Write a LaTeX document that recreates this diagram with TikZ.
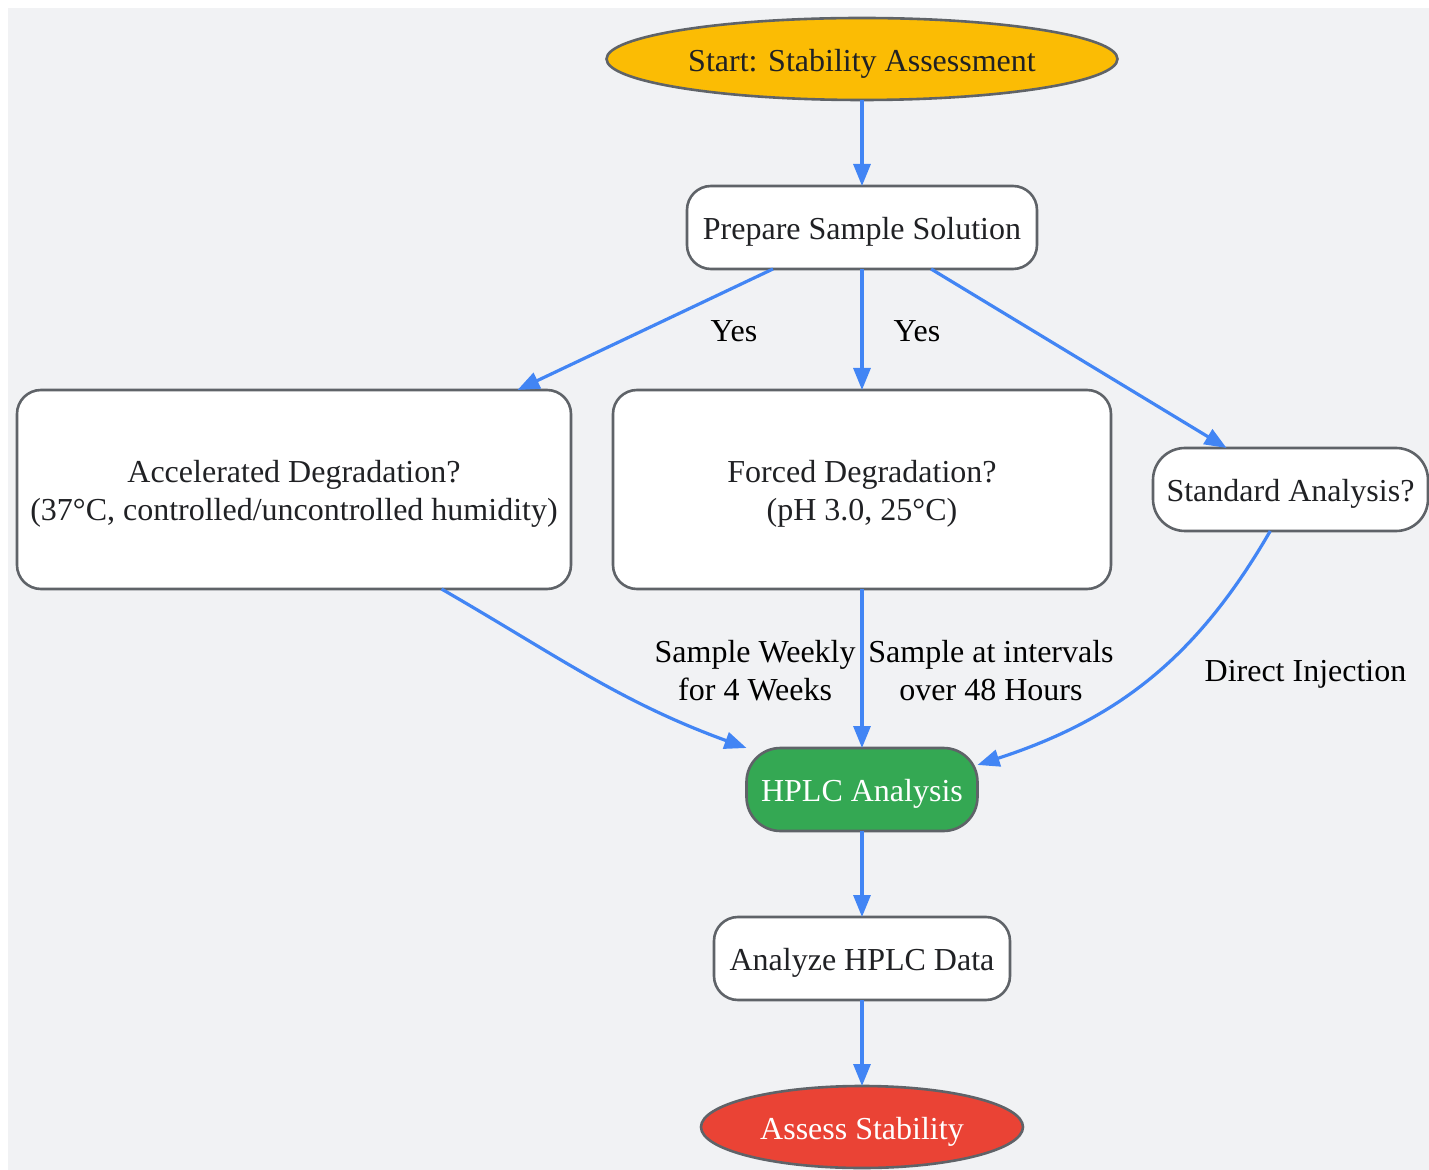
\documentclass[tikz,border=0pt]{standalone}
\usepackage{fontspec}
\setmainfont{Liberation Serif}
\usepackage{tikz}
\usetikzlibrary{arrows.meta,shapes.geometric,positioning}
\usepackage{xcolor}

\definecolor{bggrey}{HTML}{F1F2F4}
\definecolor{edgegrey}{HTML}{5F6368}
\definecolor{flowblue}{HTML}{4285F4}
\definecolor{startyellow}{HTML}{FBBC04}
\definecolor{hplcgreen}{HTML}{34A853}
\definecolor{endred}{HTML}{EA4335}
\definecolor{txtdark}{HTML}{202124}
\newcommand{\topstrut}{\rule{0pt}{15.5pt}}

\begin{document}
\begin{tikzpicture}[
				font=\fontsize{16}{19}\selectfont,
				node distance=43pt,
				box/.style={draw=edgegrey,line width=1.3pt,rectangle,rounded corners=12pt,fill=white,text=txtdark,minimum height=41.5pt,inner sep=3pt,outer sep=0pt,align=center},
				oval/.style={draw=edgegrey,line width=1.3pt,ellipse,inner sep=0pt,outer sep=0pt,minimum height=41pt,text=txtdark},
				flow/.style={-{Triangle[length=11pt,width=8.5pt]},line width=1.6pt,flowblue},
				lbl/.style={text=black,align=center,inner sep=2pt}
				]
				
				% sfondo
				\useasboundingbox (-431pt,29.5pt) rectangle (283.5pt,-555.5pt);
				\fill[bggrey] (-427pt,25.5pt) rectangle (283.5pt,-555.5pt);
				
				% inizio e preparazione
				\node[oval,fill=startyellow,minimum width=255.5pt] (start) at (0,0) {\topstrut Start: Stability Assessment};
				\node[box,below=of start,minimum width=175pt] (prep) {\topstrut Prepare Sample Solution};
				
				% tipi di studio
				\node[box,below=60.5pt of prep,minimum width=249pt,minimum height=99.5pt] (forced) {\topstrut Forced Degradation?\\(pH 3.0, 25°C)};
				\node[box,left=21pt of forced,minimum width=277pt,minimum height=99.5pt] (accel) {\topstrut Accelerated Degradation?\\(37°C, controlled/uncontrolled humidity)};
				\node[box,right=21pt of forced,minimum width=137.5pt,rounded corners=16pt] (standard) {\topstrut Standard Analysis?};
				
				% analisi
				\node[box,below=79.5pt of forced,minimum width=115.5pt,rounded corners=17pt,fill=hplcgreen,text=white] (hplc) {\topstrut HPLC Analysis};
				\node[box,below=of hplc,minimum width=148pt] (analyze) {\topstrut Analyze HPLC Data};
				\node[oval,below=of analyze,fill=endred,text=white,minimum width=161pt] (assess) {\topstrut Assess Stability};
				
				% collegamenti
				\draw[flow] (start) -- (prep);
				\draw[flow] (prep.-155) -- (accel.24.6);
				\draw[flow] (prep) -- coordinate[midway] (pmid) (forced);
				\draw[flow] (prep.-31.7) -- (standard.147);
				\draw[flow] (accel.-34) to[out=-30,in=160] (hplc.north west);
				\draw[flow] (forced) -- coordinate[midway] (fmid) (hplc);
				\draw[flow] (standard.-116) to[out=-120,in=18] (hplc.12);
				\draw[flow] (hplc) -- (analyze);
				\draw[flow] (analyze) -- (assess);
				
				% etichette
				\node[lbl] (yes1) at ([xshift=-64pt,yshift=-1pt]pmid) {Yes};
				\node[lbl] (yes2) at ([xshift=27.5pt,yshift=-1pt]pmid) {Yes};
				\node[lbl,anchor=east] (weekly) at ([xshift=-1pt,yshift=-1pt]fmid) {Sample Weekly\\for 4 Weeks};
				\node[lbl,anchor=west] (hours) at ([xshift=1pt,yshift=-1pt]fmid) {Sample at intervals\\over 48 Hours};
				\node[lbl] (direct) at ([xshift=7.5pt,yshift=-3pt]fmid -| standard) {Direct Injection};
				
			\end{tikzpicture}
\end{document}
